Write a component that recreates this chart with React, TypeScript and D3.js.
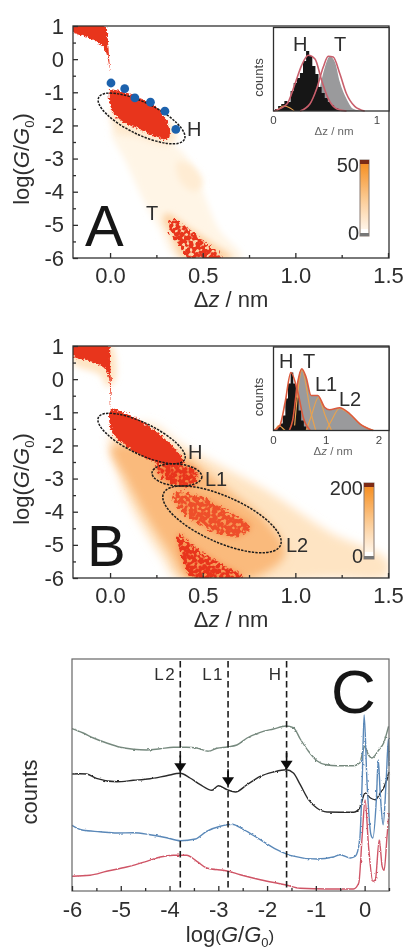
import React, { useEffect, useRef } from "react";
import * as d3 from "d3";

type P = [number, number];
const W = 409, H = 949;
const FONT = "'Liberation Sans', Arial, sans-serif";
const INK = "#2e2e2e";

// ---- Panel A heat-map regions: [dz, logG] outlines, each with a count level
const aTail: P[] = [[.009,-2.14],[.089,-3.14],[.179,-4.25],[.268,-5.15],[.357,-6],[.714,-6],[.589,-5.15],[.518,-4.25],[.464,-3.44],[.357,-2.64]];
const aMid: P[] = [[.36,-3.1],[.44,-3.2],[.5,-3.7],[.46,-4.0],[.38,-3.7]];
const aHalo: P[] = [[.304,-4.65],[.446,-5.15],[.554,-5.55],[.661,-6],[.393,-6],[.321,-5.25],[.286,-4.85]];
const aHHalo: P[] = [[.005,-1.5],[.12,-1.6],[.3,-1.8],[.36,-2.4],[.3,-2.6],[.15,-2.35],[.03,-2.2]];
const aTop: P[] = [[-.198,1],[-.027,1],[-.014,.67],[-.004,-.03],[0,-.38],[-.007,-.13],[-.027,.27],[-.071,.52],[-.143,.69],[-.198,.82]];
const aH: P[] = [[0,-.94],[.071,-.99],[.161,-1.19],[.25,-1.44],[.304,-1.84],[.321,-2.34],[.304,-2.42],[.25,-2.34],[.161,-2.12],[.071,-1.89],[.009,-1.54]];
const aT: P[] = [[.33,-4.85],[.42,-5.1],[.51,-5.5],[.61,-6],[.43,-6],[.365,-5.55],[.32,-5.15]];
const aDots: P[] = [[.005,-.72],[.079,-.89],[.134,-1.17],[.218,-1.30],[.296,-1.57],[.355,-2.12]];

// ---- Panel B heat-map regions
const bLight: P[] = [[.005,-1.64],[.054,-3.04],[.161,-4.35],[.286,-5.45],[.357,-6],[1.196,-6],[1.496,-5.95],[1.496,-5.45],[1.196,-4.65],[.839,-3.34],[.571,-2.54],[.375,-1.94],[.214,-1.34]];
const bMid: P[] = [[.009,-2.04],[.089,-3.04],[.196,-4.15],[.321,-5.25],[.411,-6],[.768,-6],[.946,-5.25],[.839,-4.25],[.661,-3.44],[.482,-2.64],[.375,-2.24]];
const bTopHalo: P[] = [[-.198,.47],[-.054,.12],[-.014,-.23],[.027,-.03],[.027,.77],[.009,1],[-.198,1]];
const bTop: P[] = [[-.198,1],[-.009,1],[0,.57],[.004,-.03],[.005,-.89],[-.004,-.03],[-.021,.27],[-.071,.47],[-.143,.59],[-.198,.69]];
const bH: P[] = [[.004,-.94],[.089,-1.04],[.214,-1.44],[.339,-2.04],[.398,-2.52],[.357,-2.62],[.268,-2.54],[.161,-2.29],[.071,-1.94],[.009,-1.59]];
const bL1: P[] = [[.25,-2.6],[.375,-2.6],[.465,-2.75],[.455,-3.2],[.357,-3.2],[.28,-2.95]];
const bL2: P[] = [[.34,-3.45],[.49,-3.55],[.64,-4.0],[.76,-4.45],[.68,-4.75],[.51,-4.45],[.39,-3.98]];
const bT: P[] = [[.37,-4.65],[.45,-5.05],[.58,-5.5],[.72,-6],[.45,-6],[.39,-5.45]];

// ---- Insets: [dz, counts]
const insAH: P[] = [[0,1],[.03,2],[.06,5],[.09,7],[.12,10],[.15,9],[.18,20],[.21,28],[.24,33],[.27,38],[.3,50],[.33,60],[.36,55],[.39,45],[.42,37],[.45,24],[.48,18],[.51,13],[.54,9],[.57,6],[.6,3],[.65,1],[.7,0]];
const insAT: P[] = [[.4,0],[.449,24],[.497,44],[.545,54.7],[.593,49],[.641,29],[.705,12.3],[.769,2.3],[.865,0]];
const insAHr: P[] = [[0,0],[.128,6.7],[.208,27.3],[.272,45.7],[.337,55.7],[.401,52],[.465,30.7],[.529,12.3],[.609,2.3],[.705,0]];
const insATr: P[] = [[.256,0],[.353,7.3],[.417,22.3],[.481,44],[.529,54.7],[.577,54],[.641,37.3],[.705,17.3],[.785,4.7],[.881,0]];
const insAO: P[] = [[.03,0],[.1,5],[.16,3],[.2,0]];
const insBH: P[] = [[0,0],[.05,1],[.1,4],[.15,7],[.2,15],[.25,32],[.3,47],[.35,58],[.4,47],[.45,33],[.5,20],[.55,10],[.6,4],[.65,0]];
const insBT: P[] = [[.3,0],[.363,10],[.459,48.3],[.535,61.7],[.618,53.3],[.713,35],[.841,35],[.968,23.3],[1.064,20.7],[1.255,22.7],[1.446,16.7],[1.637,6.7],[1.892,0]];
const insBHr: P[] = [[0,0],[.12,5],[.22,28],[.33,58],[.47,36],[.57,12],[.7,0]];
const insBOs: P[][] = [[[.4,5],[.54,60],[.7,20],[.8,0]],[[.62,0],[.72,15],[.85,33],[.98,15],[1.1,0]],[[1,0],[1.1,10],[1.25,22],[1.45,16],[1.65,6],[1.9,0]],[[.03,0],[.1,5],[.16,3],[.22,0]]];

// ---- Panel C: [logG, counts]
const cGreen: P[] = [[-6,162.3],[-5.77,158],[-5.56,153],[-5.29,148],[-5.01,143.7],[-4.74,141.7],[-4.47,141],[-4.19,142.3],[-3.92,143.7],[-3.65,143.7],[-3.44,143],[-3.2,139.7],[-3.03,142.7],[-2.82,144],[-2.62,146],[-2.41,153],[-2.14,158.7],[-1.87,162],[-1.61,165],[-1.46,163.3],[-1.32,152],[-1.15,139.7],[-.98,130.3],[-.77,126],[-.57,125.3],[-.23,125.3],[-.1,128],[-.03,141],[0,144.7],[.08,136],[.15,133],[.29,141],[.39,148],[.49,164.7]];
const cBlack: P[] = [[-6,117],[-5.84,117.3],[-5.7,117],[-5.5,112.7],[-5.08,109.3],[-4.74,110.7],[-4.4,112.3],[-4.06,115.3],[-3.78,117.7],[-3.58,113],[-3.37,106.3],[-3.13,100.7],[-3,105.3],[-2.82,101.3],[-2.65,99],[-2.41,106.3],[-2.14,114.7],[-1.87,119],[-1.61,121.3],[-1.46,118],[-1.32,106.3],[-1.15,91.3],[-.98,83],[-.77,79],[-.23,78.7],[-.1,83],[.01,98],[.12,93],[.22,91.3],[.32,98],[.39,103],[.5,119]];
const cBlue: P[] = [[-6,65.7],[-5.77,60.7],[-5.43,59.3],[-5.08,58],[-4.74,58.3],[-4.4,56.3],[-4.06,53.3],[-3.78,50.3],[-3.47,52],[-3.24,59.7],[-2.96,64.7],[-2.72,66.7],[-2.48,61.3],[-2.14,51.3],[-1.8,41.3],[-1.53,35.7],[-.98,32],[-.64,34],[-.5,36.3],[-.29,33],[-.19,34.7],[-.1,51.3],[-.05,110],[-.01,176],[.05,108],[.13,56.3],[.17,53],[.24,91],[.28,131],[.32,98],[.38,66.3],[.44,108],[.49,153],[.5,125]];
const cRed: P[] = [[-6,14.7],[-5.63,15.7],[-5.29,19.7],[-4.88,24],[-4.47,29.7],[-4.19,34],[-3.92,35.7],[-3.65,35.7],[-3.44,29.7],[-3.24,23],[-2.82,20],[-2.55,16.3],[-2.14,11.3],[-1.61,6],[-1.32,2.7],[-.77,2],[-.23,2],[-.12,8],[-.05,55],[.01,91],[.08,45],[.17,9.7],[.22,11.3],[.3,51],[.36,24.7],[.4,20.7],[.46,55],[.5,78]];
const cMarks = [{ x: -3.78, label: "L2", tip: 118.7 }, { x: -2.8, label: "L1", tip: 104.7 }, { x: -1.6, label: "H", tip: 121.3 }];

const gTicks = [1, 0, -1, -2, -3, -4, -5, -6];
const cTicks = [-6, -5, -4, -3, -2, -1, 0];

const heat = d3.scaleLinear<string>()
  .domain([0, 4, 12, 25, 40, 50])
  .range(["#ffffff", "#fff1de", "#fddcb3", "#f9ab62", "#f2612f", "#e8351f"]);

const x0 = 73, x1 = 389;
const sx = d3.scaleLinear().domain([-.2, 1.5]).range([x0, x1 - 1]);
const curve = d3.line().curve(d3.curveCatmullRomClosed.alpha(.5));

function Axis({ axis, tr, strokeW = 1.3 }: { axis: any; tr: string; strokeW?: number }) {
  const ref = useRef<SVGGElement>(null);
  useEffect(() => {
    const g = d3.select(ref.current as any);
    g.call(axis);
    g.select(".domain").remove();
    g.selectAll("line").attr("stroke", INK).attr("stroke-width", strokeW);
    g.selectAll("text").attr("fill", INK).attr("font-family", FONT).attr("font-size", 22);
  }, []);
  return <g ref={ref} transform={tr} />;
}

function Y({ x, y, size = 22 }: { x: number; y: number; size?: number }) {
  return (
    <text transform={`translate(${x},${y}) rotate(-90)`} textAnchor="middle" fontSize={size} fill={INK}>
      log(<tspan fontStyle="italic">G</tspan>/<tspan fontStyle="italic">G</tspan><tspan dy={5} fontSize={size * .6}>0</tspan><tspan dy={-5}>)</tspan>
    </text>
  );
}

function Label({ x, y, t, size = 20, anchor = "start", fill = INK }: any) {
  return <text x={x} y={y} fontSize={size} textAnchor={anchor} fill={fill}>{t}</text>;
}

function HeatPanel({ top, id, layers, ellipses, label, lx, extra }: any) {
  const bottom = top + 232;
  const sy = d3.scaleLinear().domain([1, -6]).range([top, bottom]);
  const pts = (a: P[]) => a.map(([u, v]) => [sx(u), sy(v)] as [number, number]);
  const xAxis = d3.axisBottom(sx).tickValues([0, .5, 1, 1.5]).tickSize(-5).tickPadding(9).tickFormat(d3.format(".1f") as any);
  const xMinor = d3.axisBottom(sx).tickValues([.25, .75, 1.25]).tickSize(-3).tickFormat(() => "");
  const yAxis = d3.axisLeft(sy).tickValues(gTicks).tickSize(-5).tickPadding(9).tickFormat((d: any) => String(d));
  const yMinor = d3.axisLeft(sy).tickValues(d3.range(-5.5, 1, 1)).tickSize(-3).tickFormat(() => "");
  return (
    <g>
      <clipPath id={id}><rect x={x0} y={top} width={x1 - x0} height={232} /></clipPath>
      <g clipPath={`url(#${id})`}>
        {layers.map((l: any, i: number) => (
          <path key={i} d={curve(pts(l.pts)) as string} fill={heat(l.v)} filter={`url(#${l.f})`} />
        ))}
      </g>
      {ellipses.map((e: any, i: number) => (
        <ellipse key={i} cx={sx(e.u)} cy={sy(e.v)} rx={e.rx} ry={e.ry}
          transform={`rotate(${e.a} ${sx(e.u)} ${sy(e.v)})`} fill="none" stroke="#1c1c1c"
          strokeWidth={1.5} strokeDasharray="2.4 1.2" />
      ))}
      {extra && extra(sx, sy)}
      <rect x={x0} y={top} width={x1 - x0} height={232} fill="none" stroke={INK} strokeWidth={1.3} />
      <Axis axis={xAxis} tr={`translate(0,${bottom})`} />
      <Axis axis={xMinor} tr={`translate(0,${bottom})`} />
      <Axis axis={yAxis} tr={`translate(${x0},0)`} />
      <Axis axis={yMinor} tr={`translate(${x0},0)`} />
      <Label x={231} y={bottom + 49} t={<><tspan>Δ</tspan><tspan fontStyle="italic">z</tspan> / nm</>} size={22} anchor="middle" />
      <Y x={29} y={top + 133} />
      <Label x={lx} y={top + 220} t={label} size={58} fill="#151515" />
    </g>
  );
}

function Inset({ top, xmax, xr, black, gray, reds, oranges, xTicks, xLab }: any) {
  const left = 273.5, right = 389, bottom = top + 83.5;
  const ix = d3.scaleLinear().domain([0, xmax]).range([left, xr]);
  const iy = d3.scaleLinear().domain([0, 83.5]).range([bottom, top]);
  const bin = d3.area<P>().x(d => ix(d[0])).y0(bottom).y1(d => iy(d[1])).curve(d3.curveStep);
  const fill = d3.area<P>().x(d => ix(d[0])).y0(bottom).y1(d => iy(d[1])).curve(d3.curveMonotoneX);
  const smooth = d3.line<P>().x(d => ix(d[0])).y(d => iy(d[1])).curve(d3.curveMonotoneX);
  return (
    <g>
      <rect x={left} y={top} width={right - left} height={83.5} fill="#fff" />
      <path d={fill(gray) as string} fill="#9a9a9c" />
      <path d={bin(black) as string} fill="#141414" />
      {oranges.map((o: P[], i: number) => <path key={i} d={smooth(o) as string} fill="none" stroke="#e8a24f" strokeWidth={1.2} />)}
      {reds.map((o: P[], i: number) => <path key={i} d={smooth(o) as string} fill="none" stroke={xmax > 1.5 ? "#dc5a3c" : "#c95f6c"} strokeWidth={1.6} />)}
      <rect x={left} y={top} width={right - left} height={83.5} fill="none" stroke={INK} strokeWidth={1.3} />
      {xTicks.map((t: number) => (
        <text key={t} x={ix(t)} y={bottom + 13} fontSize={11.5} textAnchor="middle" fill="#444">{t}</text>
      ))}
      <text x={xLab} y={bottom + 24} fontSize={11.5} textAnchor="middle" fill="#666"><tspan>Δ</tspan><tspan fontStyle={xmax > 1.5 ? "italic" : "normal"}>z</tspan> / nm</text>
      <text transform={`translate(263,${top + 50}) rotate(-90)`} fontSize={13} textAnchor="middle" fill="#444">counts</text>
    </g>
  );
}

function ColorBar({ x, y0, y1, top, wd }: any) {
  const stops = d3.range(0, 1.01, .1);
  const ramp = d3.scaleLinear<string>().domain([0, .1, .45, .9, 1]).range(["#ffffff", "#fff4e6", "#fbcf9c", "#f7962f", "#f58b25"]);
  return (
    <g>
      <defs>
        <linearGradient id={`cb${x}`} x1="0" x2="0" y1="1" y2="0">
          {stops.map(t => <stop key={t} offset={t} stopColor={ramp(t)} />)}
        </linearGradient>
      </defs>
      <rect x={x} y={y0} width={wd} height={y1 - y0} fill={`url(#cb${x})`} stroke="#8a7a70" strokeWidth={1} />
      <rect x={x} y={y0} width={wd} height={4} fill="#7b2a14" />
      <rect x={x} y={y1 - 3} width={wd} height={3} fill="#777" />
      <rect x={x + 1} y={y1 - 7} width={wd - 2} height={4} fill="#fff" />
      <text x={x - 1} y={y0 + 12} fontSize={20} textAnchor="end" fill={INK}>{top}</text>
      <text x={x - 1} y={y1 + 4} fontSize={20} textAnchor="end" fill={INK}>0</text>
    </g>
  );
}

function PanelC() {
  const top = 659, bottom = 891;
  const cx = d3.scaleLinear().domain([-6, .5]).range([72, 389]);
  const cy = d3.scaleLinear().domain([0, 232]).range([bottom, top]);
  const line = d3.line<P>().x(d => cx(d[0])).y(d => cy(d[1])).curve(d3.curveMonotoneX);
  const xAxis = d3.axisBottom(cx).tickValues(cTicks).tickSize(-5).tickPadding(10).tickFormat((d: any) => String(d));
  const xMinor = d3.axisBottom(cx).tickValues(d3.range(-5.5, .6, 1)).tickSize(-3).tickFormat(() => "");
  const series: [P[], string][] = [[cGreen, "#76897e"], [cBlack, "#2b2b2b"], [cBlue, "#5a88b8"], [cRed, "#cf5466"]];
  return (
    <g>
      <g filter="url(#jitter)">
        {series.map(([s, c], i) => <path key={i} d={line(s) as string} fill="none" stroke={c} strokeWidth={1.4} />)}
      </g>
      {cMarks.map(m => {
        const px = cx(m.x), tip = cy(m.tip);
        return (
          <g key={m.label}>
            <line x1={px} x2={px} y1={top + 2} y2={bottom} stroke="#1e1e1e" strokeWidth={1.6} strokeDasharray="6.5 3.5" />
            <path d={`M${px - 6},${tip - 9}L${px + 6},${tip - 9}L${px},${tip}Z`} fill="#111" />
            <line x1={px} x2={px} y1={tip - 17} y2={tip - 8} stroke="#111" strokeWidth={1.6} />
            <text x={px - 4} y={680} fontSize={17} textAnchor="end" letterSpacing={1.5} fill={INK}>{m.label}</text>
          </g>
        );
      })}
      <rect x={72} y={top} width={317} height={232} fill="none" stroke="#666" strokeWidth={1.2} />
      <Axis axis={xAxis} tr={`translate(0,${bottom})`} />
      <Axis axis={xMinor} tr={`translate(0,${bottom})`} />
      <text x={331} y={713} fontSize={62} fill="#151515">C</text>
      <text transform="translate(37,792) rotate(-90)" fontSize={22} textAnchor="middle" fill={INK}>counts</text>
      <text x={230} y={942} fontSize={22} textAnchor="middle" fill={INK}>
        log<tspan fontSize={17}>(</tspan><tspan fontStyle="italic">G</tspan>/<tspan fontStyle="italic">G</tspan><tspan dy={5} fontSize={13}>0</tspan><tspan dy={-5} fontSize={17}>)</tspan>
      </text>
    </g>
  );
}

const aLayers = [
  { pts: aTail, v: 3, f: "soft" }, { pts: aMid, v: 6, f: "soft" }, { pts: aHHalo, v: 7, f: "soft" },
  { pts: aHalo, v: 14, f: "soft" },
  { pts: aTop, v: 50, f: "grain" }, { pts: aH, v: 50, f: "grain" }, { pts: aT, v: 50, f: "speck" },
];
const bLayers = [
  { pts: bLight, v: 9, f: "softBig" }, { pts: bMid, v: 21, f: "softBig" }, { pts: bTopHalo, v: 9, f: "soft" },
  { pts: bL2, v: 29, f: "soft" }, { pts: bT, v: 30, f: "soft" }, { pts: bL1, v: 34, f: "soft" },
  { pts: bL2, v: 44, f: "speck" }, { pts: bT, v: 50, f: "speck" }, { pts: bL1, v: 50, f: "speck" },
  { pts: bTop, v: 50, f: "grain" }, { pts: bH, v: 50, f: "grain" },
];
const aEll = [{ u: .17, v: -1.79, rx: 47.7, ry: 16, a: 26 }];
const bEll = [
  { u: .17, v: -1.79, rx: 48, ry: 15.5, a: 26 },
  { u: .361, v: -2.89, rx: 25, ry: 11, a: 5 },
  { u: .604, v: -4.23, rx: 64, ry: 23, a: 24 },
];

export default function App() {
  return (
    <svg width={W} height={H} viewBox={`0 0 ${W} ${H}`} fontFamily={FONT}
      style={{ position: "absolute", left: 0, top: 0, background: "#fff" }}>
      <defs>
        <filter id="soft" x="-30%" y="-30%" width="160%" height="160%"><feGaussianBlur stdDeviation="3" /></filter>
        <filter id="softBig" x="-30%" y="-30%" width="160%" height="160%"><feGaussianBlur stdDeviation="5" /></filter>
        <filter id="grain" x="-10%" y="-10%" width="120%" height="120%" colorInterpolationFilters="sRGB">
          <feTurbulence type="fractalNoise" baseFrequency="0.45" numOctaves="2" seed="3" result="n" />
          <feDisplacementMap in="SourceGraphic" in2="n" scale="5" xChannelSelector="R" yChannelSelector="G" />
          <feGaussianBlur stdDeviation="0.4" />
        </filter>
        <filter id="speck" x="-20%" y="-20%" width="140%" height="140%" colorInterpolationFilters="sRGB">
          <feTurbulence type="fractalNoise" baseFrequency="0.3" numOctaves="1" seed="8" result="n" />
          <feDisplacementMap in="SourceGraphic" in2="n" scale="12" xChannelSelector="R" yChannelSelector="G" result="d" />
          <feColorMatrix in="n" type="matrix" values="0 0 0 0 0  0 0 0 0 0  0 0 0 0 0  9 0 0 0 -3.3" result="m" />
          <feComposite in="d" in2="m" operator="in" />
          <feGaussianBlur stdDeviation="0.6" />
        </filter>
        <filter id="jitter" x="-2%" y="-2%" width="104%" height="104%" colorInterpolationFilters="sRGB">
          <feTurbulence type="fractalNoise" baseFrequency="0.3" numOctaves="2" seed="5" result="n" />
          <feDisplacementMap in="SourceGraphic" in2="n" scale="2.2" xChannelSelector="R" yChannelSelector="G" />
        </filter>
        <filter id="page"><feGaussianBlur stdDeviation="0.5" /></filter>
      </defs>
      <g filter="url(#page)">
        <HeatPanel top={26} id="clipA" layers={aLayers} ellipses={aEll} label="A" lx={85}
          extra={(x: any, y: any) => (
            <g>
              {aDots.map((d, i) => <circle key={i} cx={x(d[0])} cy={y(d[1])} r={4.4} fill="#1f62ad" />)}
              <Label x={187} y={136} t="H" />
              <Label x={146} y={220} t="T" />
            </g>
          )} />
        <Inset top={27.5} xmax={1} xr={377} black={insAH} gray={insAT} reds={[insAHr, insATr]} oranges={[insAO]} xTicks={[0, 1]} xLab={334} />
        <Label x={293} y={51} t="H" size={20} />
        <Label x={334} y={51} t="T" size={20} />
        <ColorBar x={360} y0={160} y1={236} top="50" wd={9} />

        <HeatPanel top={346} id="clipB" layers={bLayers} ellipses={bEll} label="B" lx={87}
          extra={() => (
            <g>
              <Label x={188} y={459} t="H" />
              <Label x={205} y={486} t="L1" />
              <Label x={286} y={552} t="L2" />
            </g>
          )} />
        <Inset top={347} xmax={2} xr={379} black={insBH} gray={insBT} reds={[insBHr, insBT]} oranges={insBOs} xTicks={[0, 1, 2]} xLab={333} />
        <Label x={279} y={368} t="H" size={20} />
        <Label x={303} y={368} t="T" size={20} />
        <Label x={315} y={391} t="L1" size={20} />
        <Label x={339} y={406} t="L2" size={20} />
        <ColorBar x={364} y0={483} y1={559} top="200" wd={10} />

        <PanelC />
      </g>
    </svg>
  );
}
